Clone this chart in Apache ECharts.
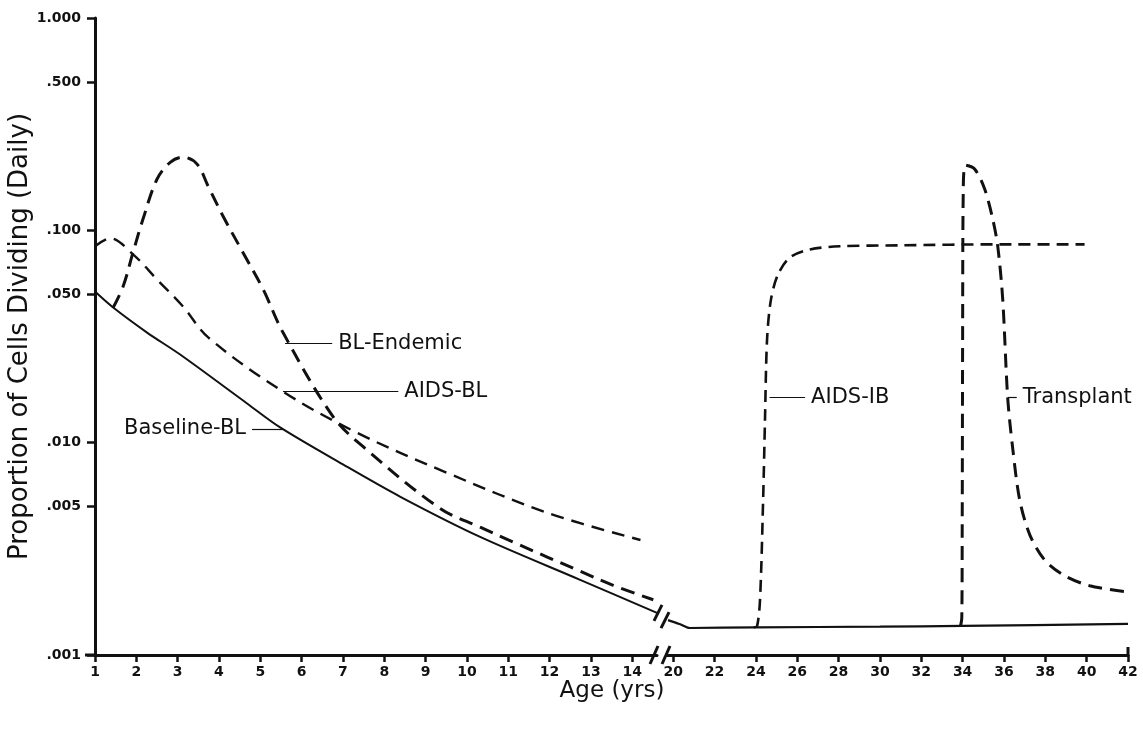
<!DOCTYPE html>
<html>
<head>
<meta charset="utf-8">
<script src="https://cdn.jsdelivr.net/npm/echarts@6/dist/echarts.min.js"></script>
<style>
  html, body { margin: 0; background: #fff; }
  #main { width: 1143px; height: 730px; }
</style>
</head>
<body>
<div id="main"></div>
<script>
// [age (yrs), proportion of cells dividing daily]
const baselineEarly = [[1, 0.0515], [1.44, 0.0433], [2.26, 0.033], [3.06, 0.026], [4.68, 0.0153], [5.48, 0.0118],
  [7.0, 0.0079], [8.39, 0.00556], [10.32, 0.0036], [12.74, 0.00226], [14.6, 0.00158]];
const baselineLate = [[19.75, 0.00146], [20.3, 0.0014], [20.8, 0.00134], [24, 0.00135], [30, 0.00136], [34, 0.00137], [42, 0.0014]];
const aidsBL = [[1, 0.0841], [1.36, 0.0917], [1.92, 0.0771], [2.5, 0.0587], [3.13, 0.0438], [3.74, 0.0313], [5.55, 0.0174],
  [7.34, 0.01114], [9.52, 0.00721], [11.94, 0.00468], [14.2, 0.00348]];
const blEndemic = [[1.44, 0.0433], [1.68, 0.0544], [1.92, 0.0787], [2.16, 0.1127], [2.5, 0.174], [2.82, 0.209], [3.13, 0.221],
  [3.47, 0.205], [3.74, 0.161], [4.1, 0.1164], [4.58, 0.0787], [5.07, 0.0527], [5.55, 0.033], [6.76, 0.01327], [7.49, 0.00957],
  [9.35, 0.0049], [10.32, 0.004], [11.12, 0.0034], [12.74, 0.00248], [13.54, 0.00213], [14.51, 0.00182]];
const aidsIB = [[23.9, 0.00135], [24.06, 0.00137], [24.2, 0.00182], [24.35, 0.00538], [24.44, 0.0128], [24.54, 0.0306],
  [24.73, 0.0473], [25.07, 0.062], [25.65, 0.0746], [26.62, 0.0813], [28.07, 0.0841], [30.97, 0.085], [35.8, 0.0859], [39.9, 0.0859]];
const transplant = [[33.9, 0.00137], [33.96, 0.0015], [33.98, 0.004], [34.0, 0.03], [34.03, 0.15], [34.15, 0.2027], [34.59, 0.194],
  [35.07, 0.156], [35.46, 0.1127], [35.7, 0.0841], [35.94, 0.0473], [36.18, 0.0163], [36.43, 0.00927], [36.76, 0.00538],
  [37.25, 0.00368], [37.97, 0.0028], [38.94, 0.00236], [40.14, 0.00212], [41.98, 0.00198]];

const yTicks = [0.001, 0.005, 0.01, 0.05, 0.1, 0.5, 1];
const yTickLabels = ['.001', '.005', '.010', '.050', '.100', '.500', '1.000'];
const xTicksEarly = [1, 2, 3, 4, 5, 6, 7, 8, 9, 10, 11, 12, 13, 14];
const xTicksLate = [20, 22, 24, 26, 28, 30, 32, 34, 36, 38, 40, 42];

// curve labels: [name, start on curve, end of leader line]
const notes = {
  endemic: ['BL-Endemic', [5.6, 0.0293], [6.74, 0.0293]],
  aidsBL: ['AIDS-BL', [5.55, 0.0174], [8.34, 0.0174]],
  baseline: ['Baseline-BL', [5.55, 0.0116], [4.8, 0.0116]],
  aidsIB: ['AIDS-IB', [24.66, 0.0163], [26.38, 0.0163]],
  transplant: ['Transplant', [36.18, 0.0163], [36.62, 0.0163]]
};

const ink = '#111';
const font = '"DejaVu Sans", "Liberation Sans", sans-serif';

let chart = echarts.init(document.getElementById('main'));

function leader (n) {
  return {
    silent: true,
    symbol: ['none', 'none'],
    animation: false,
    lineStyle: { type: 'solid', width: 1.2, color: ink },
    label: { show: true, position: 'end', distance: 6, formatter: n[0], color: ink, fontSize: 21, fontFamily: font },
    data: [[{ coord: n[1] }, { coord: n[2] }]]
  };
}

function xAxisOf (grid, min, max, ticks) {
  return {
    type: 'value', gridIndex: grid, min: min, max: max,
    axisLine: { show: true, onZero: false, lineStyle: { color: ink, width: 3 } },
    axisTick: { show: true, customValues: ticks, length: 7, lineStyle: { color: ink, width: 2.5 } },
    axisLabel: { customValues: ticks, margin: 10, color: ink, fontSize: 14, fontWeight: 'bold', fontFamily: font },
    splitLine: { show: false }
  };
}

let option = {
  animation: false,
  backgroundColor: '#fff',
  grid: [
    { left: 95, top: 18, width: 562, height: 637 },
    { left: 667, top: 18, width: 461, height: 637 }
  ],
  xAxis: [
    xAxisOf(0, 1, 14.6, xTicksEarly),
    xAxisOf(1, 19.7, 42, xTicksLate)
  ],
  yAxis: [
    {
      // the log scale the curves are drawn on
      type: 'log', logBase: 10, gridIndex: 0, min: 0.001, max: 1, position: 'left',
      axisLine: { show: true, lineStyle: { color: ink, width: 3 } },
      axisTick: { show: false }, axisLabel: { show: false }, splitLine: { show: false }, minorTick: { show: false }
    },
    {
      // same axis in log10 units, only for the tick marks and labels
      type: 'value', gridIndex: 0, min: -3, max: 0, position: 'left',
      axisLine: { show: false },
      axisTick: { show: true, customValues: yTicks.map(v => Math.log10(v)), length: 8, lineStyle: { color: ink, width: 2.5 } },
      axisLabel: {
        customValues: yTicks.map(v => Math.log10(v)), margin: 14, color: ink, fontSize: 14, fontWeight: 'bold', fontFamily: font,
        formatter: function (v) {
          let i = yTicks.findIndex(t => Math.abs(Math.log10(t) - v) < 1e-6);
          return i < 0 ? '' : yTickLabels[i];
        }
      },
      splitLine: { show: false },
      name: 'Proportion of Cells Dividing (Daily)',
      nameLocation: 'middle', nameGap: 60,
      nameTextStyle: { color: ink, fontSize: 26, fontFamily: font }
    },
    {
      type: 'log', logBase: 10, gridIndex: 1, min: 0.001, max: 1,
      axisLine: { show: false }, axisTick: { show: false }, axisLabel: { show: false }, splitLine: { show: false }
    }
  ],
  series: [
    {
      name: 'Baseline-BL', type: 'line', xAxisIndex: 0, yAxisIndex: 0, data: baselineEarly,
      showSymbol: false, smooth: 0.3,
      lineStyle: { color: ink, width: 2 },
      markLine: leader(notes.baseline)
    },
    {
      name: 'Baseline-BL late', type: 'line', xAxisIndex: 1, yAxisIndex: 2, data: baselineLate,
      showSymbol: false, smooth: 0.3,
      lineStyle: { color: ink, width: 2.2 }
    },
    {
      name: 'AIDS-BL', type: 'line', xAxisIndex: 0, yAxisIndex: 0, data: aidsBL,
      showSymbol: false, smooth: 0.35,
      lineStyle: { color: ink, width: 2.4, type: [13, 8] },
      markLine: leader(notes.aidsBL)
    },
    {
      name: 'BL-Endemic', type: 'line', xAxisIndex: 0, yAxisIndex: 0, data: blEndemic,
      showSymbol: false, smooth: 0.35,
      lineStyle: { color: ink, width: 3, type: [14, 8] },
      markLine: leader(notes.endemic)
    },
    {
      name: 'AIDS-IB', type: 'line', xAxisIndex: 1, yAxisIndex: 2, data: aidsIB,
      showSymbol: false, smooth: 0.3,
      lineStyle: { color: ink, width: 2.6, type: [12, 7] },
      markLine: leader(notes.aidsIB)
    },
    {
      name: 'Transplant', type: 'line', xAxisIndex: 1, yAxisIndex: 2, data: transplant,
      showSymbol: false, smooth: 0.3,
      lineStyle: { color: ink, width: 3, type: [14, 8] },
      markLine: leader(notes.transplant)
    }
  ]
};

chart.setOption(option);

// break marks "//" on the axis and on the baseline curve, plus the end cap at 42
let axisY = chart.convertToPixel({ yAxisIndex: 0 }, 0.001);
let leftStart = chart.convertToPixel({ xAxisIndex: 0 }, 1);
let leftEnd = chart.convertToPixel({ xAxisIndex: 0 }, 14.6);
let rightStart = chart.convertToPixel({ xAxisIndex: 1 }, 19.7);
let rightEnd = chart.convertToPixel({ xAxisIndex: 1 }, 42);
let curveL = chart.convertToPixel({ seriesIndex: 0 }, baselineEarly[baselineEarly.length - 1]);
let curveR = chart.convertToPixel({ seriesIndex: 1 }, baselineLate[0]);

function slash (cx, cy, h) {
  return { type: 'line', shape: { x1: cx - 4, y1: cy + h, x2: cx + 4, y2: cy - h }, style: { stroke: ink, lineWidth: 3 } };
}

chart.setOption({
  graphic: [
    slash(leftEnd - 3, axisY, 9),
    slash(rightStart - 1, axisY, 9),
    slash(curveL[0] + 1, curveL[1], 8),
    slash(curveR[0] - 3, curveR[1], 8),
    { type: 'line', shape: { x1: leftStart - 10, y1: axisY, x2: leftStart, y2: axisY }, style: { stroke: ink, lineWidth: 3 } },
    { type: 'line', shape: { x1: rightEnd, y1: axisY + 1, x2: rightEnd, y2: axisY - 8 }, style: { stroke: ink, lineWidth: 3 } },
    {
      type: 'text', x: 612, y: 691,
      style: { text: 'Age (yrs)', fill: ink, font: '23px ' + font, textAlign: 'center', textVerticalAlign: 'middle' }
    }
  ]
});
</script>
</body>
</html>
